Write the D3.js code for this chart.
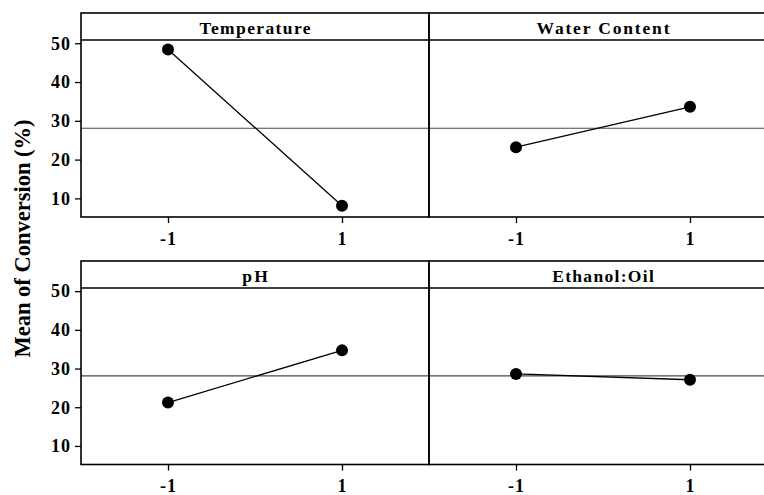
<!DOCTYPE html>
<html>
<head>
<meta charset="utf-8">
<script src="https://cdn.jsdelivr.net/npm/d3@7"></script>
<style>
  html, body { margin: 0; padding: 0; background: #fff; }
  svg { display: block; }
  text { font-family: "Liberation Serif", "Times New Roman", serif; font-weight: bold; fill: #000; }
</style>
</head>
<body>
<svg id="chart" width="764" height="495"></svg>
<script>
// Main effects of each factor on mean conversion
const factors = ["Temperature", "Water Content", "pH", "Ethanol:Oil"];
const levels = [-1, 1];
const temperatureMeans = [48.4, 8.1];
const waterMeans = [23.2, 33.6];
const phMeans = [21.2, 34.7];
const ethanolMeans = [28.6, 27.1];
const grandMean = 28.1;
const yTicks = [10, 20, 30, 40, 50];
const xTickLabels = ["-1", "1"];
const yLabel = "Mean of Conversion (%)";

const seriesByFactor = [temperatureMeans, waterMeans, phMeans, ethanolMeans];
// rendered width of each strip title
const titleWidths = [111, 133, 25.6, 101.6];

const svg = d3.select("#chart");

const panelW = 348;
const left = 81;
const rows = [
  { top: 13, header: 27, bottom: 217 },
  { top: 261, header: 27, bottom: 464.5 }
];

const x = d3.scaleLinear().domain([-2, 2]);
const yDomain = [5.2, 57.8];

function styleTicks(sel) {
  sel.selectAll("text")
    .attr("font-size", 18)
    .style("font-family", "Liberation Serif, serif")
    .style("font-weight", "bold")
    .style("letter-spacing", "1px");
}

factors.forEach((name, i) => {
  const r = rows[Math.floor(i / 2)];
  const c = i % 2;
  const x0 = left + c * panelW;
  const xs = x.copy().range([x0, x0 + panelW]);
  const ys = d3.scaleLinear().domain(yDomain).range([r.bottom, r.top]);
  const g = svg.append("g");

  // reference line at the overall mean
  g.append("line")
    .attr("x1", x0).attr("x2", x0 + panelW)
    .attr("y1", ys(grandMean)).attr("y2", ys(grandMean))
    .attr("stroke", "#4a4a4a").attr("stroke-width", 1.1);

  // header strip
  g.append("line")
    .attr("x1", x0).attr("x2", x0 + panelW)
    .attr("y1", r.top + r.header).attr("y2", r.top + r.header)
    .attr("stroke", "#000").attr("stroke-width", 1.4);
  g.append("text")
    .attr("x", x0 + panelW / 2).attr("y", r.top + 20.5)
    .attr("text-anchor", "middle")
    .attr("font-size", 17.5)
    .attr("textLength", titleWidths[i])
    .attr("lengthAdjust", "spacing")
    .text(name);

  // panel frame
  g.append("rect")
    .attr("x", x0).attr("y", r.top)
    .attr("width", panelW).attr("height", r.bottom - r.top)
    .attr("fill", "none").attr("stroke", "#000").attr("stroke-width", 1.6);

  // x axis
  const xAxis = d3.axisBottom(xs).tickValues(levels)
    .tickFormat((d, k) => xTickLabels[k]).tickSize(6).tickPadding(9);
  const xa = g.append("g").attr("transform", `translate(0,${r.bottom})`).call(xAxis);
  xa.select(".domain").remove();
  xa.selectAll("line").attr("stroke", "#000").attr("stroke-width", 1.3);
  styleTicks(xa);

  // y axis on the left column
  if (c === 0) {
    const yAxis = d3.axisLeft(ys).tickValues(yTicks).tickSize(6).tickPadding(4);
    const ya = g.append("g").attr("transform", `translate(${x0},0)`).call(yAxis);
    ya.select(".domain").remove();
    ya.selectAll("line").attr("stroke", "#000").attr("stroke-width", 1.3);
    styleTicks(ya);
  }

  // effect line and level means
  const pts = levels.map((lv, k) => [xs(lv), ys(seriesByFactor[i][k])]);
  g.append("path")
    .attr("d", d3.line()(pts))
    .attr("fill", "none").attr("stroke", "#000").attr("stroke-width", 1.3);
  g.selectAll("circle").data(pts).join("circle")
    .attr("cx", d => d[0]).attr("cy", d => d[1]).attr("r", 6)
    .attr("fill", "#000");
});

svg.append("text")
  .attr("transform", "translate(30,238.5) rotate(-90)")
  .attr("text-anchor", "middle")
  .attr("font-size", 22.5)
  .text(yLabel);
</script>
</body>
</html>
